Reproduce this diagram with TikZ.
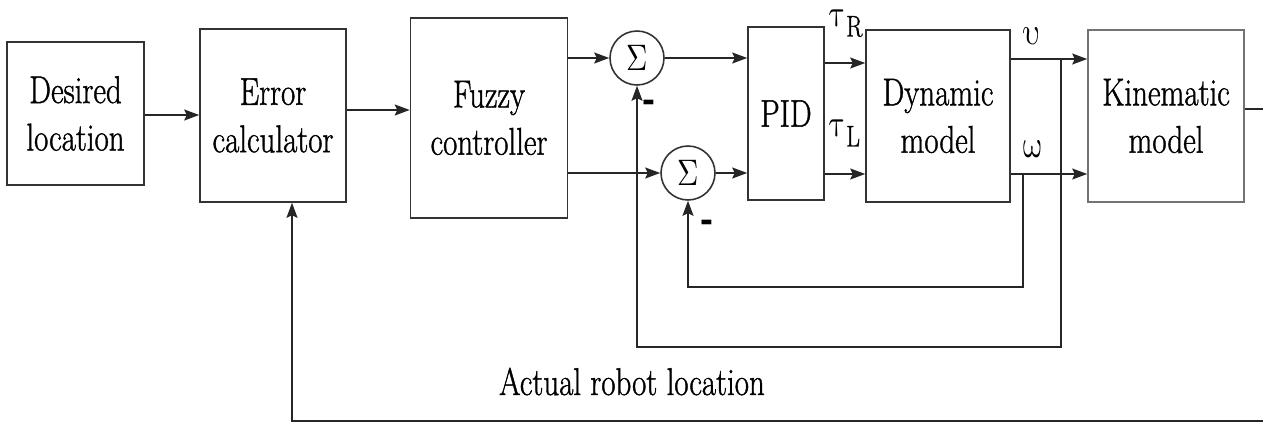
\documentclass[tikz,border=0pt]{standalone}
\usepackage{fontspec}
\usepackage{unicode-math}
\setmainfont{Latin Modern Roman}[FakeBold=1.2]
\newfontfamily\minusfont{Liberation Sans Bold}
\usetikzlibrary{arrows.meta}
\newcommand{\nrw}[1]{\scalebox{0.8}[1]{#1}}

\begin{document}
\begin{tikzpicture}[x=0.02cm, y=-0.02cm,
  line width=0.9pt,
  blk/.style={draw=black!80, line width=0.9pt, align=center, inner sep=0pt,
    font=\rmfamily\fontsize{22}{27}\selectfont},
  sum/.style={circle, draw=black!80, line width=0.9pt, minimum size=1.08cm,
    inner sep=0pt, font=\rmfamily\fontsize{21}{21}\selectfont},
  lbl/.style={inner sep=0pt, font=\rmfamily\fontsize{22}{27}\selectfont},
  minus/.style={inner sep=0pt, font=\minusfont\fontsize{22}{22}\selectfont},
  arr/.style={draw=black!85, line width=0.9pt,
    -{Stealth[length=0.3cm, width=0.22cm, inset=0.05cm]}},
  ln/.style={draw=black!85, line width=0.9pt}]

\useasboundingbox (0,0) rectangle (1263,425);

% blocks
\node[blk, minimum width=2.74cm, minimum height=2.86cm] (des) at (75.5,113.5) {\nrw{Desired}\\\nrw{location}};
\node[blk, minimum width=2.92cm, minimum height=3.46cm] (err) at (273,115.5) {\nrw{Error}\\\nrw{calculator}};
\node[blk, minimum width=3.14cm, minimum height=4.0cm] (fuz) at (489,118) {\nrw{Fuzzy}\\\nrw{controller}};
\node[sum] (s1) at (637,58) {\nrw{$\Sigma$}};
\node[sum] (s2) at (688,173) {\nrw{$\Sigma$}};
\node[blk, minimum width=1.52cm, minimum height=3.46cm] (pid) at (786,113.5) {\nrw{PID}};
\node[blk, minimum width=2.88cm, minimum height=3.44cm] (dyn) at (938,116) {\nrw{Dynamic}\\\nrw{model}};
\node[blk, draw=black!55, minimum width=3.12cm, minimum height=3.44cm] (kin) at (1166,116) {\nrw{Kinematic}\\\nrw{model}};

% forward path
\coordinate (di) at ([yshift=-0.03cm]des.east);
\draw[arr] (di) -- (di -| err.west);
\coordinate (eo) at ([yshift=0.11cm]err.east);
\draw[arr] (eo) -- (eo -| fuz.west);
\draw[arr] (s1 -| fuz.east) -- (s1.west);
\draw[arr] (s2 -| fuz.east) -- (s2.west);
\draw[arr] (s1.east) -- (s1 -| pid.west);
\draw[arr] (s2.east) -- (s2 -| pid.west);

\coordinate (tr) at ([yshift=1.01cm]pid.east);
\coordinate (tl) at ([yshift=-1.21cm]pid.east);
\draw[arr] (tr) -- (tr -| dyn.west);
\draw[arr] (tl) -- (tl -| dyn.west);

\coordinate (vo) at ([yshift=1.14cm]dyn.east);
\coordinate (wo) at ([yshift=-1.16cm]dyn.east);
\draw[arr] (vo) -- (vo -| kin.west);
\draw[arr] (wo) -- (wo -| kin.west);

% inner feedback loops
\coordinate (vb) at ([xshift=1.0cm]vo);
\coordinate (wb) at ([xshift=0.24cm]wo);
\draw[arr] (vb) -- ++(0,288) -| (s1.south);
\draw[arr] (wb) -- ++(0,113) -| (s2.south);

% outer feedback loop
\coordinate (ko) at ([yshift=0.14cm]kin.east);
\coordinate (ei) at ([xshift=0.38cm]err.south);
\draw[arr] (ko) -- ++(24,0) -- ++(0,312) -| (ei);

% signal labels
\node[lbl, anchor=base west] (tauR) at (829,27) {\nrw{$\symup{\tau}$\raisebox{-0.19cm}{\fontsize{17}{17}\selectfont R}}};
\node[lbl, anchor=base west] (tauL) at (829,137) {\nrw{$\symup{\tau}$\raisebox{-0.19cm}{\fontsize{17}{17}\selectfont L}}};
\node[lbl, anchor=base] (vlab) at (1032,45) {\nrw{$\symup{\upsilon}$}};
\node[lbl, anchor=base] (wlab) at (1032,158) {\nrw{$\symup{\omega}$}};
\node[minus] (m1) at (649,106) {-};
\node[minus] (m2) at (707,226) {-};
\node[lbl, anchor=base] (act) at (632,395) {\nrw{Actual robot location}};

\end{tikzpicture}
\end{document}
